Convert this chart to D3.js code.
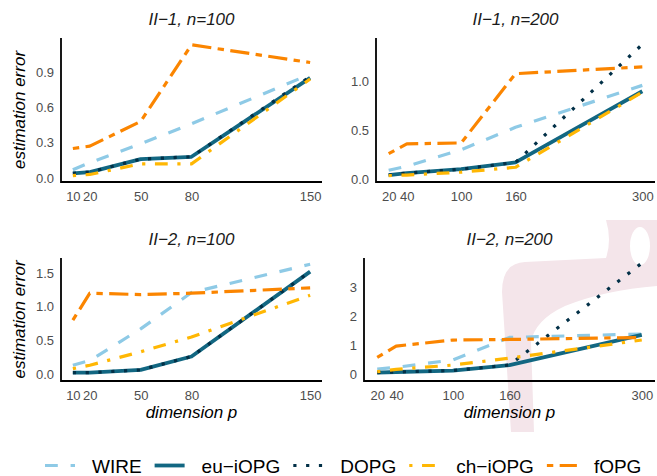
<!DOCTYPE html>
<html>
<head>
<meta charset="utf-8">
<script src="https://cdn.jsdelivr.net/npm/d3@7"></script>
<style>
  html, body { margin: 0; padding: 0; background: #ffffff; }
  svg { display: block; }
</style>
</head>
<body>
<svg id="chart" width="657" height="476"></svg>
<script>
// ---------------- data ----------------
const methods = ["WIRE", "eu\u2212iOPG", "DOPG", "ch\u2212iOPG", "fOPG"];
const pSmall = [10, 20, 50, 80, 150];   // n = 100
const pLarge = [20, 40, 100, 160, 300]; // n = 200

const titles = ["II\u22121, n=100", "II\u22121, n=200", "II\u22122, n=100", "II\u22122, n=200"];

const yTicksA = [0, 0.3, 0.6, 0.9];
const yTicksB = [0, 0.5, 1.0];
const yTicksC = [0, 0.5, 1.0, 1.5];
const yTicksD = [0, 1, 2, 3];

// II-1, n=100
const wire_1_100 = [0.07, 0.13, 0.29, 0.46, 0.88];
const eu_1_100   = [0.04, 0.05, 0.16, 0.18, 0.85];
const dopg_1_100 = [0.04, 0.05, 0.16, 0.18, 0.86];
const ch_1_100   = [0.02, 0.03, 0.12, 0.12, 0.84];
const fopg_1_100 = [0.25, 0.27, 0.48, 1.13, 0.98];
// II-1, n=200
const wire_1_200 = [0.09, 0.13, 0.30, 0.53, 0.96];
const eu_1_200   = [0.04, 0.06, 0.10, 0.17, 0.90];
const dopg_1_200 = [0.04, 0.06, 0.10, 0.17, 1.38];
const ch_1_200   = [0.035, 0.04, 0.07, 0.12, 0.89];
const fopg_1_200 = [0.26, 0.36, 0.37, 1.08, 1.15];
// II-2, n=100
const wire_2_100 = [0.13, 0.20, 0.67, 1.21, 1.63];
const eu_2_100   = [0.02, 0.02, 0.06, 0.26, 1.52];
const dopg_2_100 = [0.02, 0.02, 0.06, 0.26, 1.52];
const ch_2_100   = [0.08, 0.13, 0.33, 0.55, 1.17];
const fopg_2_100 = [0.80, 1.20, 1.18, 1.20, 1.28];
// II-2, n=200
const wire_2_200 = [0.17, 0.23, 0.49, 1.27, 1.39];
const eu_2_200   = [0.05, 0.07, 0.12, 0.31, 1.36];
const dopg_2_200 = [0.05, 0.07, 0.12, 0.31, 3.85];
const ch_2_200   = [0.08, 0.16, 0.31, 0.55, 1.18];
const fopg_2_200 = [0.58, 0.97, 1.18, 1.20, 1.27];

// ---------------- styles ----------------
const colors = ["#8ECAE6", "#126782", "#023047", "#FFB703", "#FB8500"];
const widths = [3.2, 3.8, 3.2, 3.2, 3.2];
const dashes = ["12.8,12.8", null, "3.2,9.6", "3.2,9.6,12.8,9.6", "6.4,6.4,19.2,6.4"];
const FONT = "'Liberation Sans', Arial, Helvetica, sans-serif";

// ---------------- layout ----------------
const panels = [
  { title: titles[0], p: pSmall, series: [wire_1_100, eu_1_100, dopg_1_100, ch_1_100, fopg_1_100],
    yt: yTicksA, fmt: d3.format(".1f"), x0: 61, x1: 322, y0: 38, y1: 182, xd: [3, 157], yd: [-0.034, 1.188], left: true, bottom: false },
  { title: titles[1], p: pLarge, series: [wire_1_200, eu_1_200, dopg_1_200, ch_1_200, fopg_1_200],
    yt: yTicksB, fmt: d3.format(".1f"), x0: 376, x1: 655, y0: 38, y1: 182, xd: [6, 314], yd: [-0.031, 1.446], left: false, bottom: false },
  { title: titles[2], p: pSmall, series: [wire_2_100, eu_2_100, dopg_2_100, ch_2_100, fopg_2_100],
    yt: yTicksC, fmt: d3.format(".1f"), x0: 61, x1: 322, y0: 258, y1: 381, xd: [3, 157], yd: [-0.104, 1.723], left: true, bottom: true },
  { title: titles[3], p: pLarge, series: [wire_2_200, eu_2_200, dopg_2_200, ch_2_200, fopg_2_200],
    yt: yTicksD, fmt: d3.format("d"), x0: 364, x1: 655, y0: 258, y1: 381, xd: [6, 314], yd: [-0.243, 4.03], left: false, bottom: true }
];

const svg = d3.select("#chart");

// faint background watermark seen in the reference (bottom-right panel)
const wm = svg.append("g").attr("class", "watermark");
wm.append("path")
  .attr("d", "M502,292 Q502,263 525,262 L606,258 Q612,240 606,220 L657,220 L657,286 Q605,290 565,306 Q535,320 531,342 L534,432 L511,432 Z")
  .attr("fill", "#f4e5ea");
wm.append("ellipse").attr("cx", 640).attr("cy", 246).attr("rx", 10).attr("ry", 19).attr("fill", "#ffffff");

panels.forEach(pn => {
  const g = svg.append("g");
  const x = d3.scaleLinear().domain(pn.xd).range([pn.x0, pn.x1]);
  const y = d3.scaleLinear().domain(pn.yd).range([pn.y1, pn.y0]);

  // title
  g.append("text")
    .attr("x", (pn.x0 + pn.x1) / 2).attr("y", pn.y0 - 13)
    .attr("text-anchor", "middle")
    .attr("font-family", FONT).attr("font-size", 17).attr("font-style", "italic")
    .attr("fill", "#1a1a1a")
    .text(pn.title);

  // axes (labels only, no ticks)
  const xa = g.append("g").attr("transform", `translate(0,${pn.y1})`)
    .call(d3.axisBottom(x).tickValues(pn.p).tickFormat(d3.format("d")).tickSize(0).tickPadding(10));
  const ya = g.append("g").attr("transform", `translate(${pn.x0},0)`)
    .call(d3.axisLeft(y).tickValues(pn.yt).tickFormat(pn.fmt).tickSize(0).tickPadding(7));
  [xa, ya].forEach(a => {
    a.select(".domain").remove();
    a.selectAll("text").attr("font-family", FONT).attr("font-size", 13).attr("fill", "#4d4d4d");
  });

  // lines
  const line = d3.line().x(d => x(d[0])).y(d => y(d[1]));
  pn.series.forEach((vals, i) => {
    const pts = pn.p.map((pv, k) => [pv, vals[k]]);
    const path = g.append("path")
      .attr("d", line(pts))
      .attr("fill", "none")
      .attr("stroke", colors[i])
      .attr("stroke-width", widths[i])
      .attr("stroke-linejoin", "round")
      .attr("stroke-linecap", "butt");
    if (dashes[i]) path.attr("stroke-dasharray", dashes[i]);
  });

  // axis lines
  g.append("path")
    .attr("d", `M${pn.x0},${pn.y0}V${pn.y1}H${pn.x1}`)
    .attr("fill", "none").attr("stroke", "#000").attr("stroke-width", 1.8);

  if (pn.left) {
    g.append("text")
      .attr("transform", `translate(25,${(pn.y0 + pn.y1) / 2}) rotate(-90)`)
      .attr("text-anchor", "middle")
      .attr("font-family", FONT).attr("font-size", 17).attr("font-style", "italic")
      .attr("fill", "#000")
      .text("estimation error");
  }
  if (pn.bottom) {
    g.append("text")
      .attr("x", (pn.x0 + pn.x1) / 2).attr("y", 418)
      .attr("text-anchor", "middle")
      .attr("font-family", FONT).attr("font-size", 17).attr("font-style", "italic")
      .attr("fill", "#000")
      .text("dimension p");
  }
});

// ---------------- legend ----------------
const leg = svg.append("g");
let cx = 45;
const keyY = 465.5;
methods.forEach((m, i) => {
  const k = leg.append("line")
    .attr("x1", cx).attr("x2", cx + 30).attr("y1", keyY).attr("y2", keyY)
    .attr("stroke", colors[i]).attr("stroke-width", widths[i]).attr("stroke-linecap", "butt");
  if (dashes[i]) k.attr("stroke-dasharray", dashes[i]);
  const t = leg.append("text")
    .attr("x", cx + 47).attr("y", 472.5)
    .attr("font-family", FONT).attr("font-size", 19).attr("fill", "#000")
    .text(m);
  const w = t.node().getComputedTextLength();
  cx = cx + 47 + w + 13;
});
</script>
</body>
</html>
